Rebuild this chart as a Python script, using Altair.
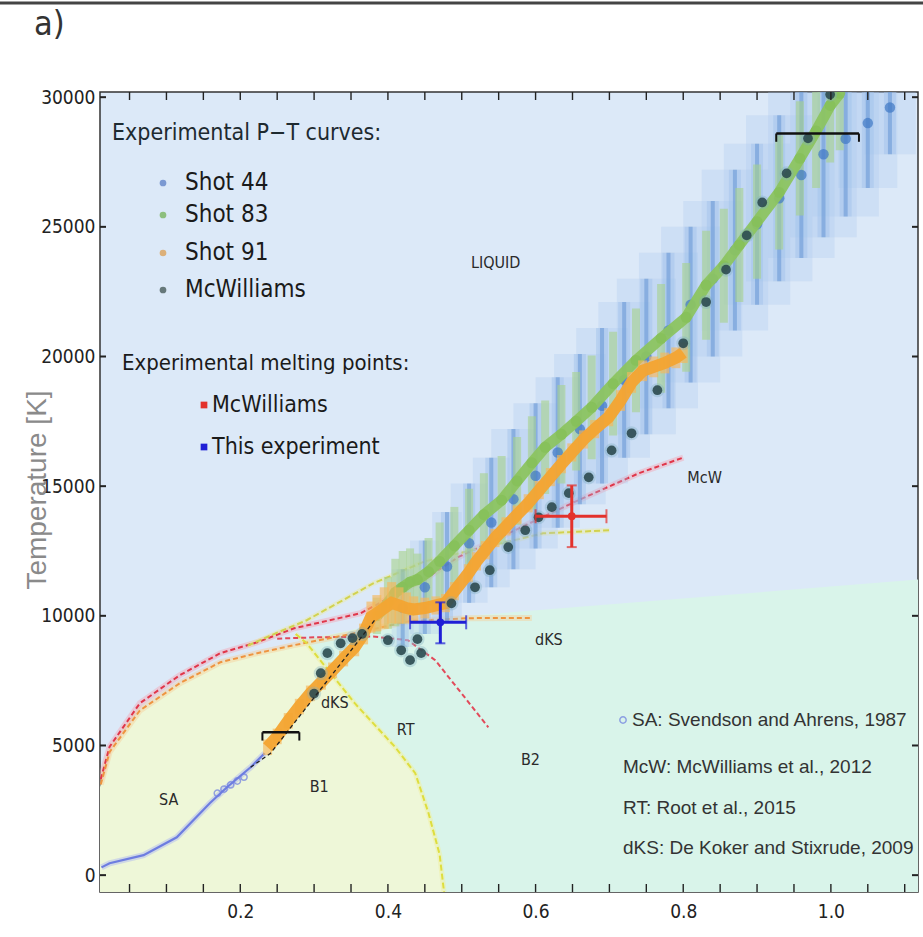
import altair as alt
import pandas as pd

# ---------------- fonts ----------------
NARROW = "DejaVu Sans Condensed, Liberation Sans Narrow, Arial Narrow, sans-serif"
SANS = "Liberation Sans, Arial, Helvetica, sans-serif"

# ---------------- plot geometry ----------------
W, H = 818, 800
P_DOMAIN = [0.01, 1.118]
T_DOMAIN = [-650, 30200]
P_LABELS = [0.2, 0.4, 0.6, 0.8, 1.0]
P_TICKS = [0.05, 0.10, 0.15, 0.20, 0.25, 0.30, 0.35, 0.40, 0.45, 0.50, 0.55,
           0.60, 0.65, 0.70, 0.75, 0.80, 0.85, 0.90, 0.95, 1.00, 1.05, 1.10]
T_TICKS = [0, 5000, 10000, 15000, 20000, 25000, 30000]

# ---------------- phase regions ----------------
B1_P = [0.01, 0.011, 0.023, 0.064, 0.118, 0.173, 0.223, 0.273, 0.29, 0.355,
        0.41, 0.437, 0.455, 0.47, 0.476]
B1_T = [3400, 3500, 4750, 6350, 7400, 8210, 8560, 8870, 8940, 6630,
        4930, 3930, 2390, 800, -650]
B2_TOP_P = [0.29, 0.40, 1.118]
B2_TOP_T = [9100, 9750, 11400]

# ---------------- model curves ----------------
SA_P = [0.012, 0.023, 0.069, 0.114, 0.159, 0.182, 0.214, 0.233]
SA_T = [300, 460, 770, 1460, 2780, 3390, 4160, 4700]
SA_PTS_P = [0.169, 0.178, 0.187, 0.196, 0.205]
SA_PTS_T = [3160, 3320, 3480, 3630, 3780]

MCW_MELT_P = [0.011, 0.023, 0.064, 0.118, 0.173, 0.223, 0.273, 0.363, 0.454,
              0.495, 0.658, 0.74, 0.80]
MCW_MELT_T = [3700, 4950, 6630, 7710, 8560, 8980, 9520, 10100, 11490,
              12260, 14460, 15500, 16100]
MCW_B1B2_P = [0.25, 0.30, 0.38, 0.427, 0.464, 0.50, 0.536]
MCW_B1B2_T = [9120, 9170, 9200, 9060, 8290, 7000, 5700]

DKS_MELT_P = [0.011, 0.023, 0.064, 0.118, 0.173, 0.223, 0.273, 0.35, 0.43,
              0.509, 0.595]
DKS_MELT_T = [3500, 4750, 6350, 7400, 8210, 8560, 8870, 9300, 9800, 9910, 9920]
DKS_UPPER_P = [0.21, 0.25, 0.29, 0.38, 0.45, 0.61, 0.70]
DKS_UPPER_T = [8850, 9350, 9830, 11250, 12100, 13180, 13300]

RT_P = [0.275, 0.29, 0.355, 0.41, 0.437, 0.455, 0.47, 0.476]
RT_T = [9300, 8940, 6630, 4930, 3930, 2390, 800, -650]

MCW_FIT_P = [0.214, 0.241, 0.382]
MCW_FIT_T = [4160, 4700, 9830]

# ---------------- experimental P-T curves ----------------
S44_P = [0.42, 0.45, 0.48, 0.51, 0.54, 0.57, 0.60, 0.63, 0.66, 0.69, 0.72, 0.75,
         0.78, 0.81, 0.84, 0.87, 0.90, 0.93, 0.96, 0.99, 1.02, 1.05, 1.08]
S44_T = [10300, 11100, 11900, 12800, 13600, 14500, 15400, 16300, 17200, 18100,
         19100, 20000, 21000, 22000, 23000, 24100, 25100, 26100, 27000, 27800,
         28400, 29000, 29600]
S44_DT = [1500, 1800, 2100, 2300, 2500, 2700, 2800, 2900, 2900, 3000, 3000, 3000,
          3000, 3000, 3000, 3100, 3100, 3200, 3200, 3200, 3000, 2500, 1800]
S44_DP = [0.015, 0.02, 0.02, 0.025, 0.025, 0.03, 0.03, 0.03, 0.035, 0.035, 0.035,
          0.04, 0.04, 0.04, 0.04, 0.045, 0.045, 0.045, 0.045, 0.045, 0.045, 0.04,
          0.035]

S83_P = [0.385, 0.40, 0.41, 0.42, 0.43, 0.44, 0.455, 0.47, 0.49, 0.51, 0.53, 0.554,
         0.575, 0.595, 0.613, 0.635, 0.655, 0.676, 0.705, 0.736, 0.77, 0.804,
         0.831, 0.855, 0.876, 0.90, 0.93, 0.958, 0.98, 0.999, 1.012]
S83_T = [10000, 10500, 10900, 11100, 11300, 11400, 11700, 12100, 12700, 13300,
         13900, 14460, 15200, 15900, 16500, 17000, 17500, 18040, 18950, 19850,
         20700, 21510, 22750, 23500, 24300, 25200, 26330, 27640, 28700, 29680,
         30150]
S83_DT = [700, 1000, 1300, 1400, 1300, 1000, 1300, 1500, 1500, 1600, 1600, 1700,
          1700, 1800, 1800, 1900, 1900, 2000, 2000, 2000, 2100, 2100, 2100, 2200,
          2200, 2200, 2200, 2200, 2200, 2200, 2200]

S91_P = [0.237, 0.25, 0.265, 0.28, 0.295, 0.31, 0.325, 0.34, 0.355, 0.367, 0.377,
         0.385, 0.395, 0.405, 0.415, 0.425, 0.435, 0.45, 0.465, 0.478, 0.49, 0.509,
         0.52, 0.532, 0.545, 0.56, 0.575, 0.59, 0.605, 0.62, 0.635, 0.649, 0.665,
         0.68, 0.699, 0.715, 0.73, 0.745, 0.76, 0.775, 0.79, 0.80]
S91_T = [4930, 5350, 5950, 6500, 7010, 7450, 7900, 8350, 8790, 9300, 9950,
         10100, 10300, 10500, 10400, 10300, 10250, 10300, 10400, 10490, 10950, 11640,
         12100, 12530, 13000, 13450, 13900, 14340, 14850, 15350, 15850, 16300, 16800,
         17200, 17660, 18300, 19000, 19450, 19600, 19750, 19950, 20150]
S91_DT = [300, 300, 300, 300, 300, 300, 300, 300, 350, 400, 600,
          700, 800, 800, 700, 600, 500, 400, 350, 350, 350, 350,
          350, 350, 350, 350, 350, 350, 350, 350, 350, 350, 350,
          350, 350, 400, 400, 400, 400, 400, 400, 400]

MCW_P = [0.300, 0.309, 0.318, 0.336, 0.352, 0.365, 0.40, 0.418, 0.43, 0.445, 0.44,
         0.486, 0.518, 0.538, 0.563, 0.586, 0.604, 0.622, 0.645, 0.672, 0.703,
         0.73, 0.765, 0.80, 0.831, 0.858, 0.886, 0.907, 0.94, 0.969, 0.999]
MCW_T = [7000, 7790, 8560, 8940, 9140, 9300, 9060, 8670, 8290, 8560, 9100,
         10480, 11100, 11760, 12650, 13300, 13800, 14190, 14730, 15340, 16380,
         17040, 18700, 20510, 22100, 23350, 24670, 25940, 27060, 28410, 30100]

# ---------------- melting points and reference bars ----------------
MELT_NAMES = ["McWilliams", "This experiment"]
MELT_P = [0.649, 0.471]
MELT_T = [13840, 9750]
MELT_DP_LO = [0.049, 0.041]
MELT_DP_HI = [0.047, 0.035]
MELT_DT_LO = [1190, 810]
MELT_DT_HI = [1190, 770]
MELT_COLORS = ["#e3312c", "#1f1fd6"]

BAR_P0 = [0.23, 0.926]
BAR_P1 = [0.28, 1.038]
BAR_T = [5510, 28600]

# ---------------- text ----------------
REGION_TEXT = ["LIQUID", "McW", "dKS", "dKS", "RT", "B2", "B1", "SA"]
REGION_P = [0.546, 0.829, 0.618, 0.328, 0.424, 0.593, 0.307, 0.103]
REGION_T = [23590, 15300, 9060, 6630, 5590, 4430, 3390, 2890]

PT_LEGEND = ["Shot  44", "Shot  83", "Shot  91", "McWilliams"]
PT_COLORS = ["#7b99d2", "#8dbf7e", "#dcb07a", "#66787a"]
MELT_LEGEND = ["McWilliams", "This experiment"]
REF_LEGEND = ["SA: Svendson and Ahrens, 1987", "McW: McWilliams et al., 2012",
              "RT: Root et al., 2015", "dKS:  De Koker and Stixrude, 2009"]

# ---------------- scales and axes ----------------
XS = alt.Scale(domain=P_DOMAIN, nice=False, zero=False)
YS = alt.Scale(domain=T_DOMAIN, nice=False, zero=False)
X_AXIS = alt.Axis(values=P_LABELS, format=".1f", ticks=False, domain=False,
                  grid=False, labelFont=NARROW, labelFontSize=19,
                  labelColor="#222", labelPadding=10, title=None)
Y_AXIS = alt.Axis(values=T_TICKS, format="d", ticks=False, domain=False,
                  grid=False, labelFont=NARROW, labelFontSize=19,
                  labelColor="#222", labelPadding=5, title=None)


def px(field="P"):
    return alt.X(f"{field}:Q", scale=XS, axis=X_AXIS, title=None)


def py(field="T"):
    return alt.Y(f"{field}:Q", scale=YS, axis=Y_AXIS, title=None)


def curve(p, t, color, width, dash=None, opacity=1.0):
    df = pd.DataFrame({"P": p, "T": t, "i": range(len(p))})
    kw = dict(color=color, strokeWidth=width, opacity=opacity, clip=True)
    if dash:
        kw["strokeDash"] = dash
    return alt.Chart(df).mark_line(**kw).encode(
        x=px(), y=py(), order="i:O")


def one():
    return pd.DataFrame({"a": [0]})


layers = []

# phase regions
b2 = pd.DataFrame({"P": B2_TOP_P, "T": B2_TOP_T})
layers.append(alt.Chart(b2).mark_area(color="#d9f4ea", opacity=1, clip=True).encode(
    x=px(), y=py(), y2=alt.datum(T_DOMAIN[0])))
b1 = pd.DataFrame({"P": B1_P, "T": B1_T})
layers.append(alt.Chart(b1).mark_area(color="#eef7d8", opacity=1, clip=True).encode(
    x=px(), y=py(), y2=alt.datum(T_DOMAIN[0])))

# model curves with soft halos
layers.append(curve(MCW_MELT_P, MCW_MELT_T, "#f3a3b4", 6, opacity=0.45))
layers.append(curve(DKS_MELT_P, DKS_MELT_T, "#f6cf98", 6, opacity=0.45))
layers.append(curve(DKS_UPPER_P, DKS_UPPER_T, "#eaeaa0", 5, opacity=0.45))
layers.append(curve(RT_P, RT_T, "#f0f0a0", 5, opacity=0.5))
layers.append(curve(SA_P, SA_T, "#b0baf2", 6, opacity=0.5))
layers.append(curve(MCW_MELT_P, MCW_MELT_T, "#e0364a", 2, dash=[5, 3]))
layers.append(curve(MCW_B1B2_P, MCW_B1B2_T, "#e24a5a", 2, dash=[5, 3]))
layers.append(curve(DKS_MELT_P, DKS_MELT_T, "#ee9440", 2, dash=[5, 3]))
layers.append(curve(DKS_UPPER_P, DKS_UPPER_T, "#d2d24e", 2, dash=[6, 3]))
layers.append(curve(RT_P, RT_T, "#dede3e", 2, dash=[6, 3]))
layers.append(curve(SA_P, SA_T, "#6d7de0", 2.2))
sa_pts = pd.DataFrame({"P": SA_PTS_P, "T": SA_PTS_T})
layers.append(alt.Chart(sa_pts).mark_point(shape="circle", size=40, filled=False,
                                           color="#6d7de0", strokeWidth=1.5).encode(
    x=px(), y=py()))

# Shot 44: broad light-blue uncertainty boxes, error bars and points
s44 = pd.DataFrame({"P": S44_P, "T": S44_T, "dT": S44_DT, "dP": S44_DP})
s44["lo"] = s44["T"] - s44["dT"]
s44["hi"] = s44["T"] + s44["dT"]
s44["plo"] = s44["P"] - s44["dP"]
s44["phi"] = s44["P"] + s44["dP"]
layers.append(alt.Chart(s44).mark_rect(color="#a9c7ee", opacity=0.28, clip=True).encode(
    x=px("plo"), x2="phi", y=py("lo"), y2="hi"))
layers.append(alt.Chart(s44).mark_rule(color="#9fc0ea", strokeWidth=12, opacity=0.45,
                                       clip=True).encode(x=px(), y=py("lo"), y2="hi"))
layers.append(alt.Chart(s44).mark_rule(color="#5d8fd2", strokeWidth=4, opacity=0.5,
                                       clip=True).encode(x=px(), y=py("lo"), y2="hi"))

# Shot 83
s83 = pd.DataFrame({"P": S83_P, "T": S83_T, "dT": S83_DT, "i": range(len(S83_P))})
s83["lo"] = s83["T"] - s83["dT"]
s83["hi"] = s83["T"] + s83["dT"]
layers.append(alt.Chart(s83).mark_rule(color="#a6d28c", strokeWidth=8, opacity=0.6,
                                       clip=True).encode(x=px(), y=py("lo"), y2="hi"))
layers.append(alt.Chart(s44).mark_circle(color="#3f78c4", size=110, opacity=0.7,
                                         clip=True).encode(x=px(), y=py()))
layers.append(alt.Chart(s83).mark_line(color="#8cc460", strokeWidth=11, opacity=0.95,
                                       clip=True).encode(x=px(), y=py(), order="i:O"))
layers.append(alt.Chart(s83).mark_circle(color="#86c05a", size=120, opacity=0.9,
                                         clip=True).encode(x=px(), y=py()))

# Shot 91
s91 = pd.DataFrame({"P": S91_P, "T": S91_T, "dT": S91_DT, "i": range(len(S91_P))})
s91["lo"] = s91["T"] - s91["dT"]
s91["hi"] = s91["T"] + s91["dT"]
layers.append(alt.Chart(s91).mark_rule(color="#f6b75a", strokeWidth=9, opacity=0.65,
                                       clip=True).encode(x=px(), y=py("lo"), y2="hi"))
layers.append(alt.Chart(s91).mark_line(color="#f3a431", strokeWidth=12, opacity=0.95,
                                       clip=True).encode(x=px(), y=py(), order="i:O"))

# McWilliams P-T points and fit
mcw = pd.DataFrame({"P": MCW_P, "T": MCW_T})
layers.append(alt.Chart(mcw).mark_circle(color="#7fb0c0", size=200, opacity=0.35,
                                         clip=True).encode(x=px(), y=py()))
layers.append(alt.Chart(mcw).mark_circle(color="#2c4a50", size=95, opacity=0.9,
                                         clip=True).encode(x=px(), y=py()))
layers.append(curve(MCW_FIT_P, MCW_FIT_T, "#222", 1.3, dash=[4, 3]))

# reference bars
bars = pd.DataFrame({"P0": BAR_P0, "P1": BAR_P1, "T": BAR_T})
layers.append(alt.Chart(bars).mark_rule(color="#111", strokeWidth=2.6).encode(
    x=px("P0"), x2="P1", y=py()))
caps = pd.DataFrame({"P": BAR_P0 + BAR_P1, "T": BAR_T + BAR_T})
caps["lo"] = caps["T"] - 320
layers.append(alt.Chart(caps).mark_rule(color="#111", strokeWidth=2).encode(
    x=px(), y=py("lo"), y2="T"))

# melting points with error crosses
melt = pd.DataFrame({"name": MELT_NAMES, "P": MELT_P, "T": MELT_T,
                     "plo": [p - d for p, d in zip(MELT_P, MELT_DP_LO)],
                     "phi": [p + d for p, d in zip(MELT_P, MELT_DP_HI)],
                     "lo": [t - d for t, d in zip(MELT_T, MELT_DT_LO)],
                     "hi": [t + d for t, d in zip(MELT_T, MELT_DT_HI)]})
mcolor = alt.Color("name:N", scale=alt.Scale(domain=MELT_NAMES, range=MELT_COLORS),
                   legend=None)
layers.append(alt.Chart(melt).mark_rule(strokeWidth=3).encode(
    x=px("plo"), x2="phi", y=py(), color=mcolor))
layers.append(alt.Chart(melt).mark_rule(strokeWidth=3).encode(
    x=px(), y=py("lo"), y2="hi", color=mcolor))
mend_h = melt.melt(id_vars=["name", "T"], value_vars=["plo", "phi"], value_name="Pe")
layers.append(alt.Chart(mend_h).mark_tick(orient="vertical", size=14, thickness=2).encode(
    x=px("Pe"), y=py(), color=mcolor))
mend_v = melt.melt(id_vars=["name", "P"], value_vars=["lo", "hi"], value_name="Te")
layers.append(alt.Chart(mend_v).mark_tick(orient="horizontal", size=10, thickness=2).encode(
    x=px(), y=py("Te"), color=mcolor))
layers.append(alt.Chart(melt).mark_circle(size=60, opacity=1).encode(
    x=px(), y=py(), color=mcolor))

# region labels
regions = pd.DataFrame({"txt": REGION_TEXT, "P": REGION_P, "T": REGION_T})
layers.append(alt.Chart(regions).mark_text(font=NARROW, fontSize=16, color="#2a2a2a",
                                           align="center", baseline="middle").encode(
    x=px(), y=py(), text="txt:N"))

# inward ticks on all four sides
xt = pd.DataFrame({"P": P_TICKS})
yt = pd.DataFrame({"T": T_TICKS})
layers.append(alt.Chart(xt).mark_rule(color="#222", strokeWidth=1.4).encode(
    x=px(), y=alt.value(H), y2=alt.Y2Value(H - 8)))
layers.append(alt.Chart(xt).mark_rule(color="#222", strokeWidth=1.4).encode(
    x=px(), y=alt.value(0), y2=alt.Y2Value(8)))
layers.append(alt.Chart(yt).mark_rule(color="#222", strokeWidth=2).encode(
    y=py(), x=alt.value(0), x2=alt.X2Value(6)))
layers.append(alt.Chart(yt).mark_rule(color="#222", strokeWidth=2).encode(
    y=py(), x=alt.value(W), x2=alt.X2Value(W - 6)))

# legend: experimental P-T curves
legend_rows = [91, 123, 161, 198]
layers.append(alt.Chart(one()).mark_text(
    text="Experimental P\u2212T curves:", font=NARROW, fontSize=23, color="#1e2a30",
    align="left", baseline="middle").encode(x=alt.value(12), y=alt.value(41)))
for name, col, yy in zip(PT_LEGEND, PT_COLORS, legend_rows):
    layers.append(alt.Chart(one()).mark_circle(color=col, size=45, opacity=1).encode(
        x=alt.value(63), y=alt.value(yy)))
    layers.append(alt.Chart(one()).mark_text(text=name, font=NARROW, fontSize=24,
                                             color="#1a1a1a", align="left",
                                             baseline="middle").encode(
        x=alt.value(85), y=alt.value(yy)))

# legend: experimental melting points
layers.append(alt.Chart(one()).mark_text(
    text="Experimental melting points:", font=NARROW, fontSize=22, color="#1a1a1a",
    align="left", baseline="middle").encode(x=alt.value(22), y=alt.value(271)))
for name, col, yy in zip(MELT_LEGEND, MELT_COLORS, [313, 355]):
    layers.append(alt.Chart(one()).mark_square(color=col, size=45, opacity=1).encode(
        x=alt.value(104), y=alt.value(yy)))
    layers.append(alt.Chart(one()).mark_text(text=name, font=NARROW, fontSize=23,
                                             color="#1a1a1a", align="left",
                                             baseline="middle").encode(
        x=alt.value(112), y=alt.value(yy)))

# legend: model references
for k, (txt, yy) in enumerate(zip(REF_LEGEND, [628, 675, 716, 756])):
    layers.append(alt.Chart(one()).mark_text(text=txt, font=SANS, fontSize=19,
                                             color="#333", align="left",
                                             baseline="middle").encode(
        x=alt.value(532 if k == 0 else 523), y=alt.value(yy)))
layers.append(alt.Chart(one()).mark_point(
    shape="circle", size=40, filled=False, color="#6d7de0", strokeWidth=1.5).encode(
    x=alt.value(523), y=alt.value(628)))

# panel tag, top rule and y title
layers.append(alt.Chart(one()).mark_rule(color="#444", strokeWidth=3).encode(
    x=alt.value(-100), x2=alt.X2Value(823), y=alt.value(-89)))
layers.append(alt.Chart(one()).mark_text(
    text="a)", font=NARROW, fontSize=34, color="#333", align="left",
    baseline="alphabetic").encode(x=alt.value(-66), y=alt.value(-57)))
layers.append(alt.Chart(one()).mark_text(
    text="Temperature [K]", font=SANS, fontSize=28, color="#8a8a8a", angle=270,
    align="center", baseline="middle").encode(x=alt.value(-62), y=alt.value(398)))

chart = alt.layer(*layers).properties(
    width=W, height=H,
    autosize=alt.AutoSizeParams(type="none"),
    padding={"left": 100, "top": 92, "right": 5, "bottom": 45},
).configure(background="white").configure_view(
    fill="#dce9f8", stroke="#333", strokeWidth=1.5)

chart.save("out.html", embed_options={"renderer": "svg", "actions": False})
